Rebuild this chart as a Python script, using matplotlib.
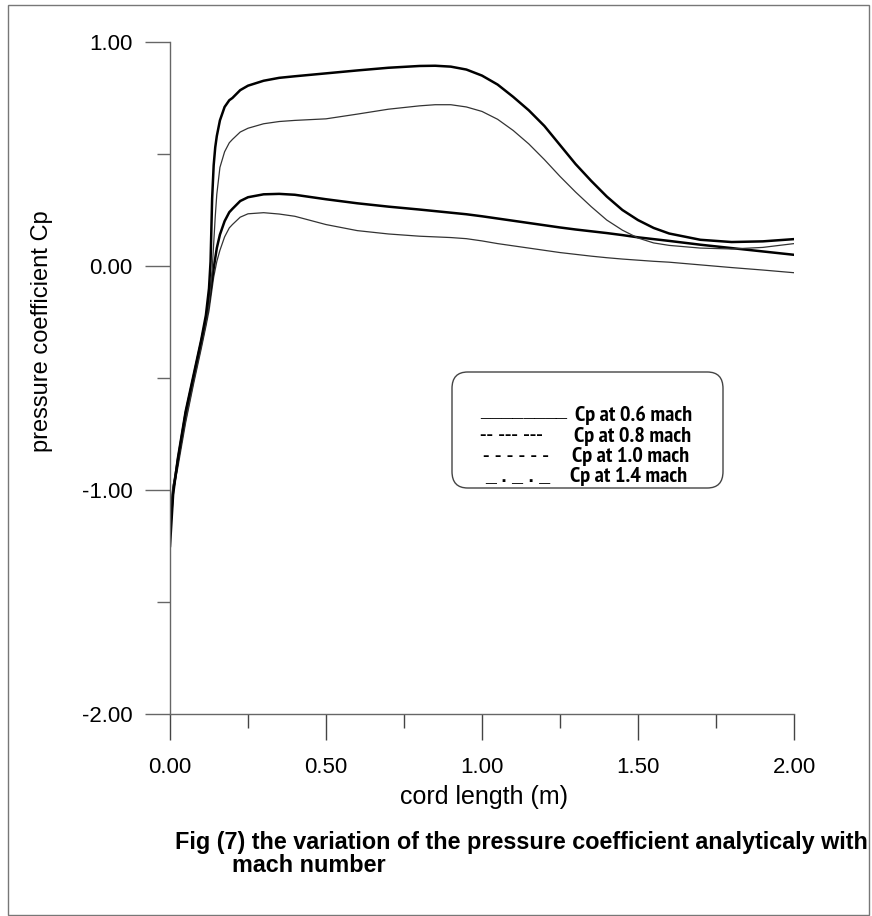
import matplotlib
matplotlib.use("Agg")
import matplotlib.pyplot as plt
from matplotlib.patches import FancyBboxPatch, Rectangle
from matplotlib.ticker import MultipleLocator, FormatStrFormatter

# chord position (m)
x_cord = [0, 0.01, 0.025, 0.05, 0.075, 0.1, 0.115, 0.125, 0.13, 0.135, 0.14,
          0.145, 0.15, 0.16, 0.175, 0.19, 0.2, 0.225, 0.25, 0.3, 0.35, 0.4, 0.5,
          0.6, 0.7, 0.8, 0.85, 0.9, 0.95, 1.0, 1.05, 1.1, 1.15, 1.2, 1.25, 1.3,
          1.35, 1.4, 1.45, 1.5, 1.55, 1.6, 1.7, 1.8, 1.9, 2.0]

cp_m06 = [-1.12, -1.01, -0.90, -0.70, -0.53, -0.37, -0.27, -0.20, -0.15, -0.10,
          -0.05, -0.015, 0.02, 0.07, 0.13, 0.17, 0.185, 0.218, 0.233, 0.238,
          0.232, 0.222, 0.185, 0.158, 0.143, 0.133, 0.13, 0.127, 0.122, 0.112,
          0.10, 0.09, 0.08, 0.07, 0.06, 0.052, 0.044, 0.037, 0.031, 0.026,
          0.021, 0.017, 0.005, -0.007, -0.018, -0.03]

cp_m08 = [-1.18, -1.00, -0.87, -0.66, -0.50, -0.34, -0.24, -0.16, -0.11, -0.06,
          -0.01, 0.035, 0.08, 0.14, 0.20, 0.24, 0.255, 0.29, 0.307, 0.32,
          0.322, 0.318, 0.298, 0.28, 0.265, 0.252, 0.245, 0.238, 0.231, 0.222,
          0.212, 0.202, 0.192, 0.182, 0.172, 0.163, 0.155, 0.147, 0.138, 0.128,
          0.12, 0.112, 0.095, 0.08, 0.065, 0.05]

cp_m10 = [-1.12, -0.98, -0.88, -0.69, -0.52, -0.36, -0.26, -0.17, -0.10, -0.02,
          0.10, 0.22, 0.32, 0.44, 0.51, 0.55, 0.565, 0.598, 0.615, 0.635,
          0.645, 0.65, 0.657, 0.678, 0.70, 0.715, 0.72, 0.72, 0.71, 0.69,
          0.655, 0.605, 0.545, 0.475, 0.40, 0.33, 0.265, 0.205, 0.16, 0.125,
          0.103, 0.092, 0.08, 0.076, 0.083, 0.10]

cp_m14 = [-1.25, -1.02, -0.86, -0.65, -0.49, -0.33, -0.22, -0.10, 0.02, 0.30,
          0.45, 0.53, 0.58, 0.65, 0.71, 0.74, 0.75, 0.785, 0.805, 0.827,
          0.84, 0.847, 0.86, 0.873, 0.885, 0.893, 0.894, 0.89, 0.877, 0.85,
          0.81, 0.755, 0.695, 0.625, 0.54, 0.455, 0.38, 0.31, 0.25, 0.205,
          0.17, 0.145, 0.117, 0.107, 0.11, 0.12]

legend_labels = ["Cp at 0.6 mach", "Cp at 0.8 mach", "Cp at 1.0 mach", "Cp at 1.4 mach"]
legend_samples = ["________", "-- --- ---", "- - - - - -", "_ . _ . _"]

plt.rcParams["font.family"] = ["Liberation Sans", "DejaVu Sans"]
narrow = ["PT Sans Narrow", "Roboto Condensed", "Liberation Sans"]

W, H = 872, 916


def fx(px):
    return px / W


def fy(py):
    return 1 - py / H


fig = plt.figure(figsize=(W / 100, H / 100), dpi=100)
ax = fig.add_axes([fx(170), fy(714), (794 - 170) / W, (714 - 42) / H])

ax.plot(x_cord, cp_m06, color="#333333", lw=0.9)
ax.plot(x_cord, cp_m08, color="black", lw=1.8)
ax.plot(x_cord, cp_m10, color="#333333", lw=0.9)
ax.plot(x_cord, cp_m14, color="black", lw=1.8)

ax.set_xlim(0, 2)
ax.set_ylim(-2, 1)
for side in ("top", "right"):
    ax.spines[side].set_visible(False)
for side in ("left", "bottom"):
    ax.spines[side].set_color("#666666")
    ax.spines[side].set_linewidth(1.0)

ax.xaxis.set_major_locator(MultipleLocator(0.5))
ax.xaxis.set_minor_locator(MultipleLocator(0.25))
ax.yaxis.set_major_locator(MultipleLocator(1.0))
ax.yaxis.set_minor_locator(MultipleLocator(0.5))
ax.xaxis.set_major_formatter(FormatStrFormatter("%.2f"))
ax.yaxis.set_major_formatter(FormatStrFormatter("%.2f"))

ax.tick_params(axis="x", which="major", direction="out", length=19, width=1.0,
               color="#444444", labelsize=16, pad=12)
ax.tick_params(axis="x", which="minor", direction="out", length=10, width=1.0,
               color="#444444")
ax.tick_params(axis="y", which="major", direction="out", length=18, width=1.0,
               color="#666666", labelsize=16, pad=9)
ax.tick_params(axis="y", which="minor", direction="out", length=9.5, width=1.0,
               color="#666666")

fig.text(fx(484), fy(797), "cord length (m)", fontsize=18,
         ha="center", va="center")
fig.text(fx(42), fy(331), "pressure coefficient Cp", fontsize=17,
         rotation=90, ha="center", va="center")

fig.text(fx(175), fy(843),
         "Fig (7) the variation of the pressure coefficient analyticaly with",
         fontsize=16.8, fontweight="bold", ha="left", va="center")
fig.text(fx(232), fy(866), "mach number",
         fontsize=16.8, fontweight="bold", ha="left", va="center")

# rounded legend frame
box = FancyBboxPatch((fx(452), fy(488)), (723 - 452) / W, (488 - 372) / H,
                     boxstyle="round,pad=0,rounding_size=0.018",
                     transform=fig.transFigure, facecolor="white",
                     edgecolor="#444444", lw=1.0)
fig.add_artist(box)

label_x = [575, 574, 572, 570]
label_y = [415, 436, 457, 477]
sample_x = [480, 480, 483, 485]
sample_y = [413, 436, 456, 478]
for lab, lx, ly in zip(legend_labels, label_x, label_y):
    fig.text(fx(lx), fy(ly), lab, family=narrow, fontsize=16,
             fontweight="bold", ha="left", va="center")
for smp, sx, sy in zip(legend_samples, sample_x, sample_y):
    fig.text(fx(sx), fy(sy), smp, fontsize=14, fontweight="bold",
             ha="left", va="center")

# outer frame around the whole figure
fig.add_artist(Rectangle((fx(8), fy(915)), (869 - 8) / W, (915 - 5) / H,
                         transform=fig.transFigure, fill=False,
                         edgecolor="#777777", lw=1.0))

fig.savefig("out.png", dpi=100)
